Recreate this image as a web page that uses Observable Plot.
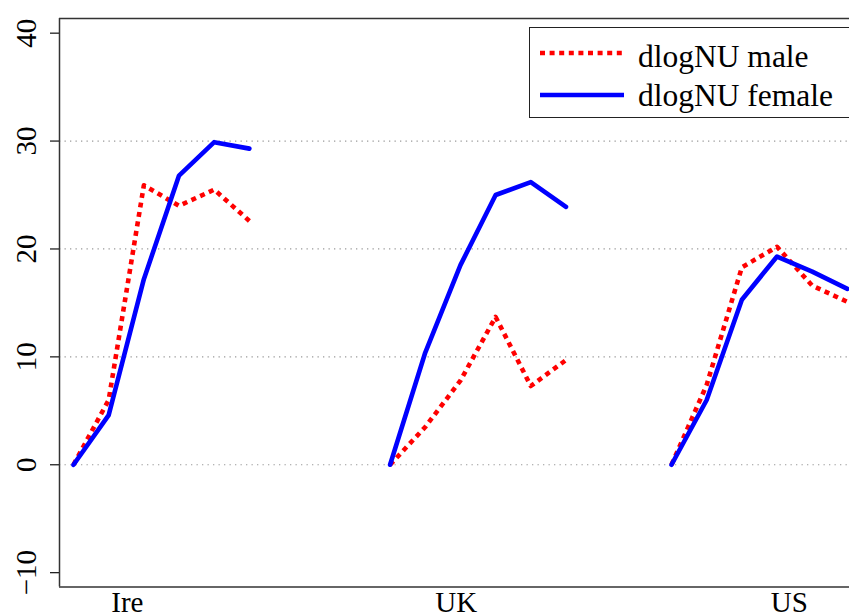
<!DOCTYPE html>
<html>
<head>
<meta charset="utf-8">
<script src="https://cdn.jsdelivr.net/npm/d3@7"></script>
<script src="https://cdn.jsdelivr.net/npm/@observablehq/plot@0.6"></script>
<style>
  html, body { margin: 0; padding: 0; background: #fff; }
  #wrap { position: relative; width: 849px; height: 615px; overflow: hidden; font-family: "Liberation Serif", "DejaVu Serif", serif; }
  #wrap svg text { font-family: "Liberation Serif", "DejaVu Serif", serif; }
  #legend { position: absolute; left: 529px; top: 27px; width: 340px; height: 91px; border: 1.5px solid #222; background: #fff; box-sizing: border-box; }
  #legend svg { position: absolute; left: 9px; }
  #legend span { position: absolute; left: 108px; font-size: 31.5px; line-height: 1; color: #000; white-space: nowrap; }
</style>
</head>
<body>
<div id="wrap"></div>
<script>
// ---- data ----
const countries = ["Ire", "UK", "US"];
const periods = [1, 2, 3, 4, 5, 6];
const groupOffset = [0, 9, 17];           // index offset of each country block on the x axis
const labelPos = [2.53, 11.88, 21.35];    // x positions of the country labels
const maleIre = [0, 6.0, 25.9, 24.0, 25.5, 22.6];
const maleUK  = [0, 3.5, 7.8, 13.7, 7.3, 9.7];
const maleUS  = [0, 7.4, 18.3, 20.2, 16.6, 15.1];
const femaleIre = [0, 4.6, 17.2, 26.8, 29.9, 29.3];
const femaleUK  = [0, 10.4, 18.5, 25.0, 26.2, 23.9];
const femaleUS  = [0, 6.0, 15.3, 19.3, 17.9, 16.3];
const yTicks = [-10, 0, 10, 20, 30, 40];
const gridTicks = [0, 10, 20, 30];
const seriesNames = ["dlogNU male", "dlogNU female"];

// ---- build table ----
const maleVals = [maleIre, maleUK, maleUS];
const femaleVals = [femaleIre, femaleUK, femaleUS];
const rows = [];
countries.forEach((c, ci) => {
  periods.forEach((p, pi) => {
    rows.push({country: c, series: seriesNames[0], x: p + groupOffset[ci], y: maleVals[ci][pi]});
  });
});
countries.forEach((c, ci) => {
  periods.forEach((p, pi) => {
    rows.push({country: c, series: seriesNames[1], x: p + groupOffset[ci], y: femaleVals[ci][pi]});
  });
});
const male = rows.filter(d => d.series === seriesNames[0]);
const female = rows.filter(d => d.series === seriesNames[1]);

const xDomain = [0.602, 23.06];
const yDomain = [-11.33, 41.36];

const chart = Plot.plot({
  width: 849,
  height: 615,
  marginLeft: 59,
  marginRight: 0,
  marginTop: 18,
  marginBottom: 28.5,
  style: {fontFamily: "Liberation Serif, DejaVu Serif, serif", fontSize: "29px", background: "#fff", overflow: "hidden"},
  x: {domain: xDomain, axis: null},
  y: {domain: yDomain, axis: null},
  marks: [
    Plot.ruleY(gridTicks, {stroke: "#9a9a9a", strokeWidth: 1.2, strokeDasharray: "1.3,4.2"}),
    Plot.line(male, {x: "x", y: "y", z: "country", stroke: "#ff0000", strokeWidth: 4.6, strokeDasharray: "5,4.6", strokeLinecap: "butt", strokeLinejoin: "round"}),
    Plot.line(female, {x: "x", y: "y", z: "country", stroke: "#0000ff", strokeWidth: 4.6, strokeLinecap: "round", strokeLinejoin: "round"}),
    Plot.ruleX([xDomain[0]], {stroke: "#333", strokeWidth: 1.5}),
    Plot.ruleY([yDomain[0]], {stroke: "#333", strokeWidth: 1.5}),
    Plot.ruleY([yDomain[1]], {stroke: "#333", strokeWidth: 1.5}),
    Plot.axisY({ticks: yTicks, tickSize: 9, tickPadding: 15, tickRotate: -90, fontSize: 29, stroke: "#222", strokeWidth: 1.3, color: "#000", label: null}),
    Plot.axisX({ticks: labelPos, tickFormat: (d, i) => countries[i], tickSize: 0, tickPadding: 4, fontSize: 29, color: "#000", label: null})
  ]
});

const wrap = document.getElementById("wrap");
wrap.appendChild(chart);

// ---- legend (drawn in plot area, top right) ----
const legend = document.createElement("div");
legend.id = "legend";
const rowsDef = [
  {name: seriesNames[0], color: "#ff0000", dash: "5,4.6", lineTop: 25, textTop: 13},
  {name: seriesNames[1], color: "#0000ff", dash: null, lineTop: 67, textTop: 52}
];
rowsDef.forEach(r => {
  const svg = d3.create("svg").attr("width", 86).attr("height", 10)
    .style("top", (r.lineTop - 5) + "px");
  svg.append("line").attr("x1", 1).attr("x2", 85).attr("y1", 5).attr("y2", 5)
    .attr("stroke", r.color).attr("stroke-width", 4.6)
    .attr("stroke-dasharray", r.dash);
  legend.appendChild(svg.node());
  const s = document.createElement("span");
  s.textContent = r.name;
  s.style.top = r.textTop + "px";
  legend.appendChild(s);
});
wrap.appendChild(legend);
</script>
</body>
</html>
